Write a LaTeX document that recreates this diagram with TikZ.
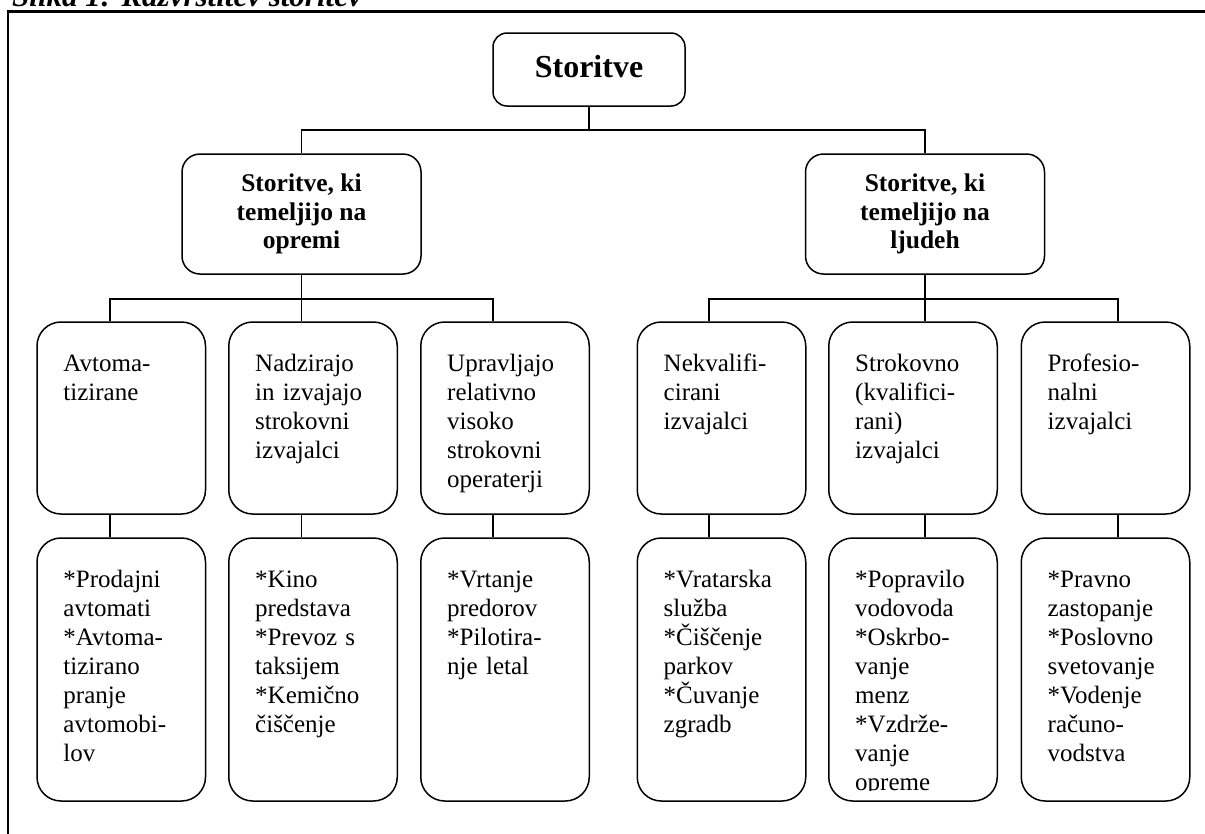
\documentclass[tikz,border=0pt]{standalone}
\usepackage{fontspec}
\setmainfont{Liberation Serif}
\usetikzlibrary{calc}
\tikzset{
  conn/.style={line width=1.5pt},
  bx/.style={draw, line width=1.5pt, inner sep=0pt},
  topbox/.style={bx, rounded corners=14pt, minimum width=192pt, minimum height=73pt,
    text height=15pt, text depth=0pt, font=\fontsize{32}{38}\selectfont\bfseries},
  midbox/.style={bx, rounded corners=18pt, minimum width=239pt, minimum height=120pt,
    align=center, font=\fontsize{25.5}{28.5}\selectfont\bfseries},
  catbox/.style={bx, rounded corners=24pt, minimum width=168.5pt, minimum height=192pt},
  exbox/.style={bx, rounded corners=24pt, minimum width=168.5pt, minimum height=263pt},
  txt/.style={anchor=north west, inner sep=0pt, align=left, text width=150pt,
    font=\fontsize{25}{29}\selectfont},
}
\begin{document}
\begin{tikzpicture}[x=1pt,y=-1pt]
\useasboundingbox (0,0) rectangle (1205,833);
\clip (0,0) rectangle (1205,833);

% caption (cut at top edge)
\node[anchor=base west, inner sep=0pt, font=\fontsize{31}{36}\selectfont\bfseries\itshape] (cap) at (12,6) {Slika 1: Razvrstitev storitev};

% frame
\draw[line width=2.4pt] (8,840) -- (8,11.5) -- (1210,11.5);

% boxes
\node[topbox] (root) at (589,69.5) {Storitve};
\node[midbox] (L) at (301.5,214) {Storitve, ki\\temeljijo na\\opremi};
\node[midbox] (R) at (925,214) {Storitve, ki\\temeljijo na\\ljudeh};

\node[catbox] (a3) at (121.25,418) {};
\node[catbox] (b3) at (313,418) {};
\node[catbox] (c3) at (505,418) {};
\node[catbox] (d3) at (721.5,418) {};
\node[catbox] (e3) at (913,418) {};
\node[catbox] (f3) at (1105.5,418) {};

\node[exbox] (a4) at (121.25,669.5) {};
\node[exbox] (b4) at (313,669.5) {};
\node[exbox] (c4) at (505,669.5) {};
\node[exbox] (d4) at (721.5,669.5) {};
\node[exbox] (e4) at (913,669.5) {};
\node[exbox] (f4) at (1105.5,669.5) {};

% texts of category boxes (first baseline 50 below box top)
\node[txt] (a3t) at ($(a3.north west)+(27,29.7)$) {\strut Avtoma-\\tizirane};
\node[txt] (b3t) at ($(b3.north west)+(27,29.7)$) {\strut Nadzirajo\\in izvajajo\\strokovni\\izvajalci};
\node[txt] (c3t) at ($(c3.north west)+(27,29.7)$) {\strut Upravljajo\\relativno\\visoko\\strokovni\\operaterji};
\node[txt] (d3t) at ($(d3.north west)+(27,29.7)$) {\strut Nekvalifi-\\cirani\\izvajalci};
\node[txt] (e3t) at ($(e3.north west)+(27,29.7)$) {\strut Strokovno\\(kvalifici-\\rani)\\izvajalci};
\node[txt] (f3t) at ($(f3.north west)+(27,29.7)$) {\strut Profesio-\\nalni\\izvajalci};

% texts of example boxes
\node[txt] (a4t) at ($(a4.north west)+(27,29.7)$) {\strut *Prodajni\\avtomati\\{}*Avtoma-\\tizirano\\pranje\\avtomobi-\\lov};
\node[txt] (b4t) at ($(b4.north west)+(27,29.7)$) {\strut *Kino\\predstava\\{}*Prevoz s\\taksijem\\{}*Kemično\\čiščenje};
\node[txt] (c4t) at ($(c4.north west)+(27,29.7)$) {\strut *Vrtanje\\predorov\\{}*Pilotira-\\nje letal};
\node[txt] (d4t) at ($(d4.north west)+(27,29.7)$) {\strut *Vratarska\\služba\\{}*Čiščenje\\parkov\\{}*Čuvanje\\zgradb};
\begin{scope}
\clip (e4.north west) rectangle ($(e4.south east)+(0,-11)$);
\node[txt] (e4t) at ($(e4.north west)+(27,29.7)$) {\strut *Popravilo\\vodovoda\\{}*Oskrbo-\\vanje\\menz\\{}*Vzdrže-\\vanje\\opreme};
\end{scope}
\node[txt] (f4t) at ($(f4.north west)+(27,29.7)$) {\strut *Pravno\\zastopanje\\{}*Poslovno\\svetovanje\\{}*Vodenje\\računo-\\vodstva};

% connector junctions
\coordinate (j0) at (589,130);
\coordinate (jl) at (301.5,299);
\coordinate (jr) at (925,299);
\coordinate (sa) at (110,299);
\coordinate (sb) at (301.5,299);
\coordinate (sc) at (493,299);
\coordinate (sd) at (709,299);
\coordinate (se) at (925,299);
\coordinate (sf) at (1118,299);

% connectors
\draw[conn] (root.south) -- (j0);
\draw[conn] (L.north) -- (L.north |- j0) -- (R.north |- j0) -- (R.north);
\draw[conn] (L.south) -- (jl);
\draw[conn] (R.south) -- (jr);
\draw[conn] (sa |- a3.north) -- (sa) -- (sc) -- (sc |- c3.north);
\draw[conn] (sb) -- (sb |- b3.north);
\draw[conn] (sd |- d3.north) -- (sd) -- (sf) -- (sf |- f3.north);
\draw[conn] (se) -- (se |- e3.north);
\draw[conn] (sa |- a3.south) -- (sa |- a4.north);
\draw[conn] (sb |- b3.south) -- (sb |- b4.north);
\draw[conn] (sc |- c3.south) -- (sc |- c4.north);
\draw[conn] (sd |- d3.south) -- (sd |- d4.north);
\draw[conn] (se |- e3.south) -- (se |- e4.north);
\draw[conn] (sf |- f3.south) -- (sf |- f4.north);
\end{tikzpicture}
\end{document}
